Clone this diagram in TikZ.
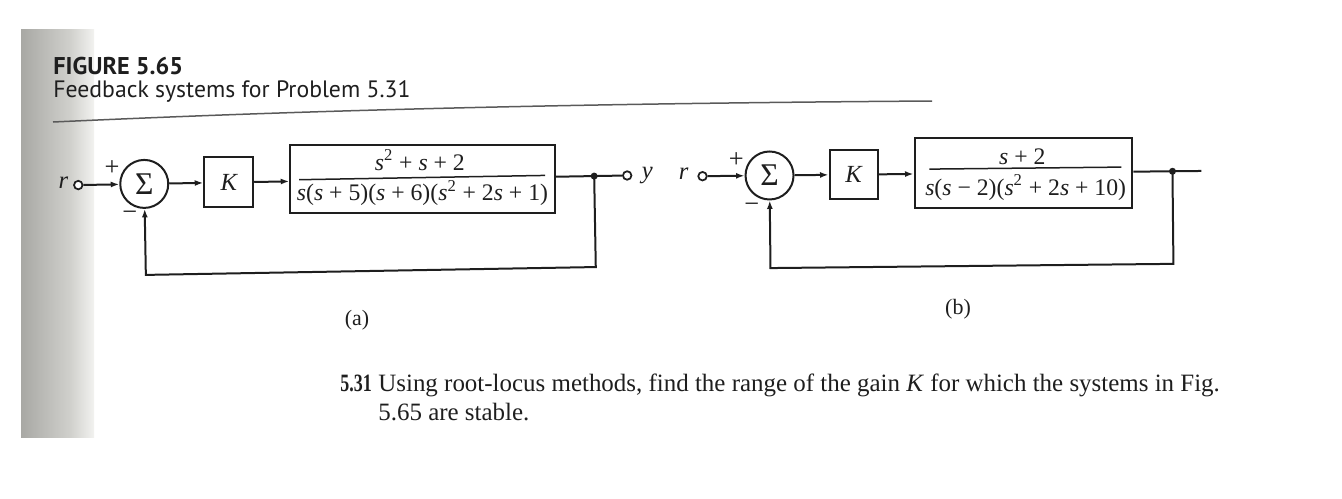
\documentclass[tikz,border=0pt]{standalone}
\usepackage{fontspec}
\usepackage{graphicx}
\setmainfont{Liberation Serif}
\newfontfamily\ptsans{PT Sans}
\usetikzlibrary{arrows.meta}
\definecolor{ink}{HTML}{1E1E1E}
\definecolor{shadeA}{HTML}{A8A8A4}
\definecolor{shadeB}{HTML}{D0D0CC}
\definecolor{shadeC}{HTML}{F2F2F0}
\definecolor{rulegray}{HTML}{5A5A5A}
\newcommand\Ss{\textit{s}}
\newcommand\sqr{\textsuperscript{2}}
\newcommand\fsz[1]{\fontsize{#1}{#1}\selectfont}
\begin{document}
\begin{tikzpicture}[x=0.02cm,y=-0.02cm,
  wire/.style={draw=ink, line width=0.04cm},
  arr/.style={wire, -{Latex[length=0.17cm,width=0.12cm]}},
  blk/.style={draw=ink, line width=0.04cm, inner sep=0pt, text=ink, font=\itshape\fsz{14}},
  sumnode/.style={circle, draw=ink, line width=0.04cm, minimum size=0.96cm, inner sep=0pt, text=ink, font=\fsz{18}},
  port/.style={circle, draw=ink, line width=0.035cm, minimum size=0.17cm, inner sep=0pt, fill=white},
  jdot/.style={circle, fill=ink, minimum size=0.14cm, inner sep=0pt},
  lbl/.style={text=ink, inner sep=0pt},
  sig/.style={lbl, anchor=base, font=\itshape\fsz{14}},
  sgn/.style={lbl, font=\fsz{15}},
  frac/.style={lbl, font=\fsz{13.5}},
  fracline/.style={draw=ink, line width=0.03cm}
]
\useasboundingbox (0,0) rectangle (1342,498);
% page shadow
\shade[left color=shadeA, right color=shadeB] (21,29) rectangle (70,437);
\shade[left color=shadeB, right color=shadeC] (70,29) rectangle (94,437);

% title
\node[lbl, anchor=base west, font=\ptsans\bfseries\fsz{13.8}] (fig) at (53,74) {FIGURE 5.65};
\node[lbl, anchor=base west, font=\ptsans\fsz{13.5}] (cap) at (53,97) {Feedback systems for Problem 5.31};
\draw[draw=rulegray, line width=0.03cm] (53,122) .. controls (250,113) and (500,104) .. (932,101);

% ---------------- (a)
\begin{scope}[rotate around={1:(340,225)}]
\node[sig] (ra) at (64,184) {r};
\node[port] (ina) at (79,180.5) {};
\node[sumnode] (suma) at (145,180.5) {Σ};
\node[sgn] (pa) at (113,164) {+};
\node[sgn] (ma) at (130,212) {−};
\node[blk, minimum width=0.98cm, minimum height=1.0cm] (ka) at (229.5,180.5) {K};
\node[blk, minimum width=5.3cm, minimum height=1.36cm] (ga) at (423.5,180.5) {};
\node[frac] (numa) at (421,161.5) {\Ss\sqr{} + \Ss{} + 2};
\node[frac] (dena) at (423,194.5) {\Ss(\Ss{} + 5)(\Ss{} + 6)(\Ss\sqr{} + 2\Ss{} + 1)};
\coordinate (fla) at (300,179);
\coordinate (fra) at (546,179);
\draw[fracline] (fla) -- (fra);
\node[jdot] (ja) at (595,180.5) {};
\node[port] (outa) at (628,180.5) {};
\node[sig] (ya) at (648,184) {y};
\coordinate (fa1) at (595,271.5);
\coordinate (fa2) at (145,271.5);
\draw[arr] (ina) -- (suma);
\draw[arr] (suma) -- (ka);
\draw[arr] (ka) -- (ga);
\draw[wire] (ga) -- (ja.center);
\draw[wire] (ja.center) -- (outa);
\draw[arr] (ja.center) -- (fa1) -- (fa2) -- (suma);
\end{scope}

% ---------------- (b)
\begin{scope}[rotate around={0.6:(940,220)}]
\node[sig] (rb) at (684,177) {r};
\node[port] (inb) at (703,173.7) {};
\node[sumnode] (sumb) at (770,173.7) {Σ};
\node[sgn] (pb) at (737,158) {+};
\node[sgn] (mb) at (752,206) {−};
\node[blk, minimum width=0.96cm, minimum height=0.98cm] (kb) at (854,173.7) {K};
\node[blk, minimum width=4.36cm, minimum height=1.40cm] (gb) at (1024,173.7) {};
\node[frac] (numb) at (1023,157.9) {\Ss{} + 2};
\node[frac] (denb) at (1026,188.5) {\Ss(\Ss{} − 2)(\Ss\sqr{} + 2\Ss{} + 10)};
\coordinate (flb) at (930,169);
\coordinate (frb) at (1122,169);
\draw[fracline] (flb) -- (frb);
\node[jdot] (jb) at (1173,173.7) {};
\coordinate (outb) at (1202,173.7);
\coordinate (fb1) at (1173,266.3);
\coordinate (fb2) at (770,266.3);
\draw[arr] (inb) -- (sumb);
\draw[arr] (sumb) -- (kb);
\draw[arr] (kb) -- (gb);
\draw[wire] (gb) -- (jb.center);
\draw[wire] (jb.center) -- (outb);
\draw[arr] (jb.center) -- (fb1) -- (fb2) -- (sumb);
\end{scope}

\node[lbl, font=\fsz{12.5}] (la) at (357,320) {(a)};
\node[lbl, font=\fsz{12.5}] (lb) at (958,309) {(b)};

% problem text
\node[lbl, anchor=base west, font=\bfseries\fsz{14.2}] (pnum) at (340,391) {\scalebox{0.72}[1]{5.31}};
\node[lbl, anchor=base west, font=\fsz{14.2}] (pl1) at (378,391) {Using root-locus methods, find the range of the gain \textit{K} for which the systems in Fig.};
\node[lbl, anchor=base west, font=\fsz{14.2}] (pl2) at (378,420) {5.65 are stable.};
\end{tikzpicture}
\end{document}
